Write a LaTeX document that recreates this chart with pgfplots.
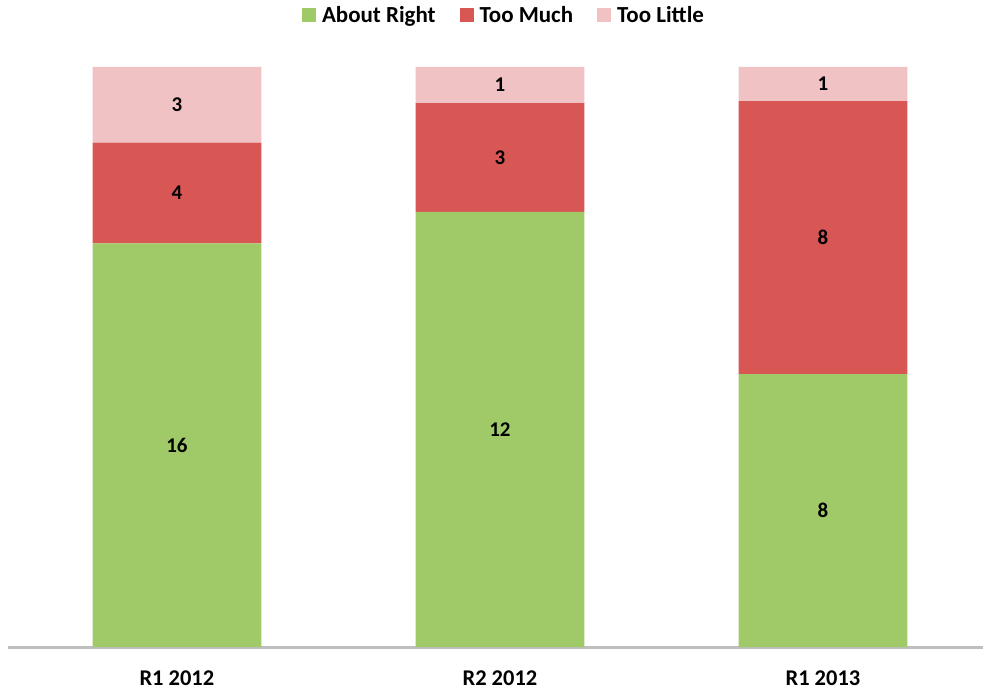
\documentclass[border=0pt]{standalone}
\usepackage{pgfplots}
\pgfplotsset{compat=1.18}
\usepackage{fontspec}
\setmainfont{Carlito}
\definecolor{cgreen}{RGB}{160,202,104}
\definecolor{cred}{RGB}{216,86,84}
\definecolor{cpink}{RGB}{241,194,196}
\definecolor{caxis}{RGB}{190,190,190}
\begin{document}
\begin{tikzpicture}
\pgfplotsset{
  common/.style={
    scale only axis, width=976pt, height=581pt,
    xmin=-0.523, xmax=2.494, ymin=0, ymax=100,
    clip=false,
  }
}
\begin{axis}[
  common,
  ybar stacked, bar width=169pt,
  hide y axis,
  axis x line*=bottom,
  x axis line style={-, draw=caxis, line width=3pt},
  xtick={0,1,2}, xticklabels={R1 2012, R2 2012, R1 2013},
  major tick length=0pt,
  xticklabel style={font=\fontsize{22.5}{26}\selectfont\bfseries, yshift=-20pt},
  legend style={at={(0.509,1.0895)}, anchor=center, draw=none, fill=none,
    legend columns=-1, font=\fontsize{23}{27}\selectfont\bfseries,
    /tikz/every odd column/.append style={column sep=4pt},
    /tikz/every even column/.append style={column sep=22pt}},
  legend image code/.code={\fill[#1] (0pt,-7pt) rectangle (14pt,7pt);},
]
\addplot[fill=cgreen, draw=none] coordinates {(0,69.565) (1,75.0) (2,47.059)};
\addlegendentry{About Right}
\addplot[fill=cred, draw=none] coordinates {(0,17.391) (1,18.75) (2,47.059)};
\addlegendentry{Too Much}
\addplot[fill=cpink, draw=none] coordinates {(0,13.043) (1,6.25) (2,5.882)};
\addlegendentry{Too Little}
\end{axis}
\begin{axis}[
  common,
  axis lines=none,
]
\addplot[only marks, mark=none, nodes near coords, point meta=explicit symbolic,
  every node near coord/.append style={anchor=center, font=\fontsize{21}{25}\selectfont\bfseries}]
  coordinates {(0,34.78)[16] (0,78.26)[4] (0,93.48)[3]
               (1,37.5)[12] (1,84.375)[3] (1,96.875)[1]
               (2,23.53)[8] (2,70.59)[8] (2,97.06)[1]};
\end{axis}
\path[use as bounding box] (-8pt,-45pt) rectangle (976pt,648pt);
\end{tikzpicture}
\end{document}
